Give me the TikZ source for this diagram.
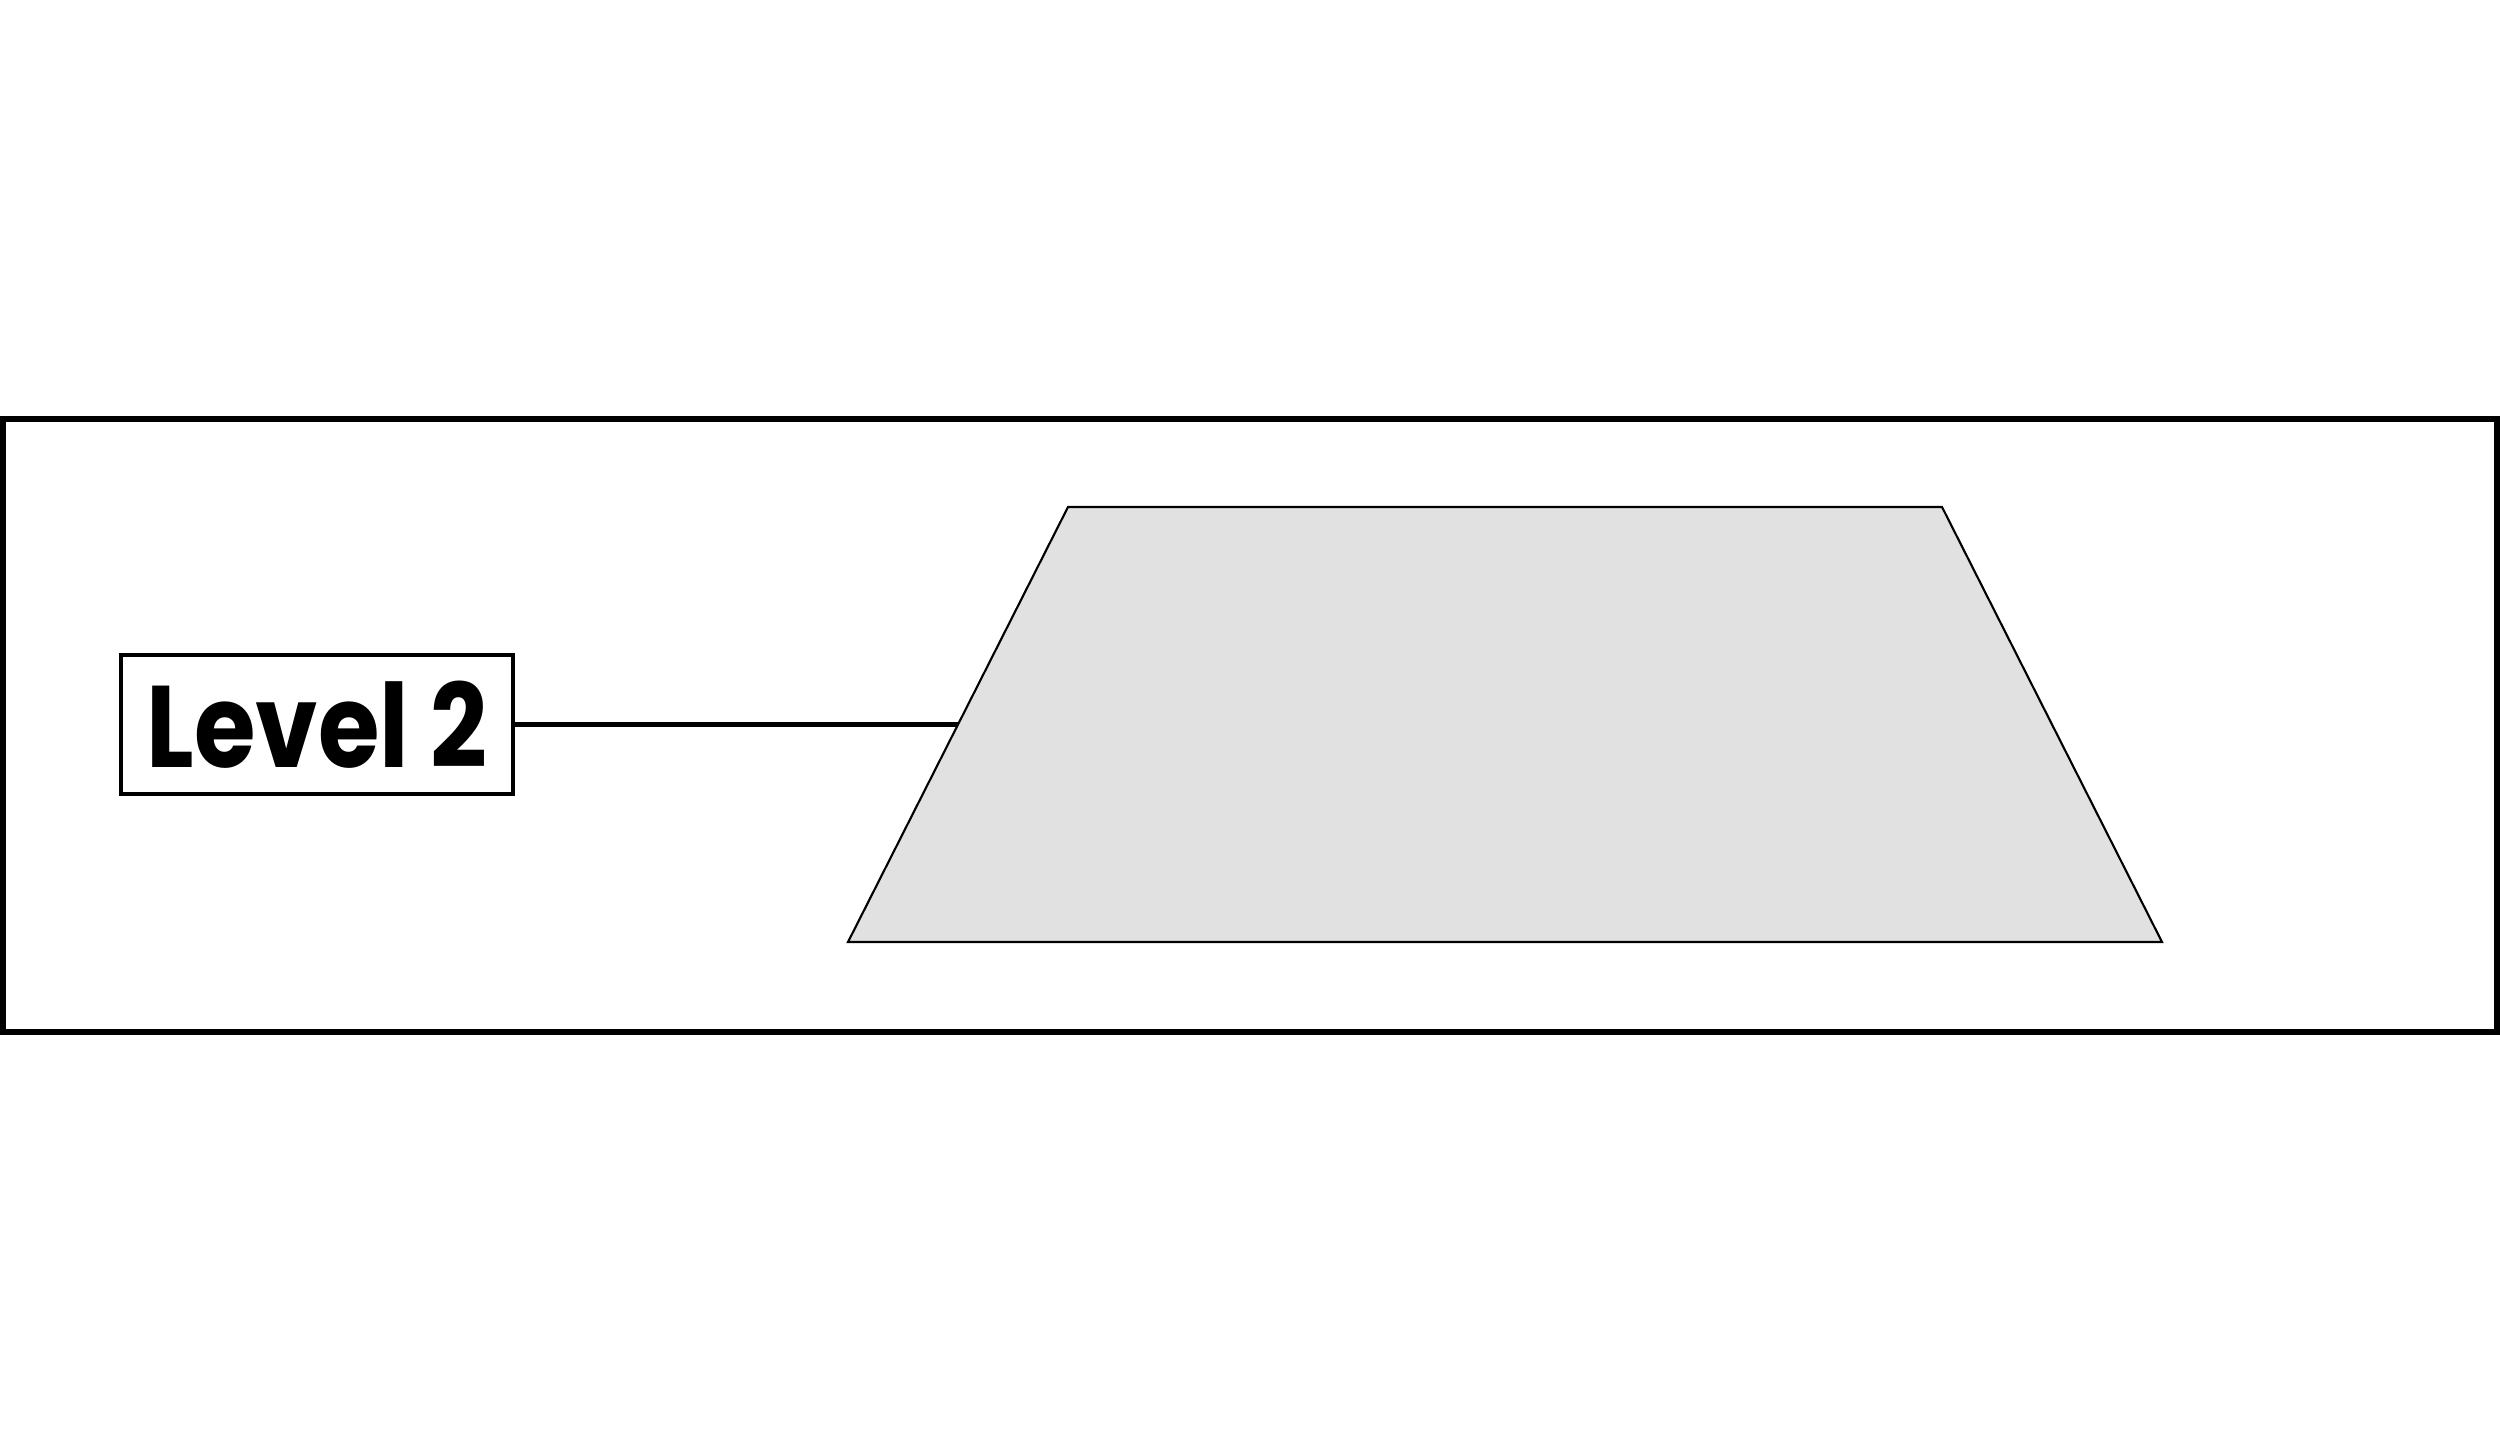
\documentclass[tikz,border=0pt]{standalone}
\usepackage{fontspec}
\newfontfamily\lblfont{Poppins}
\usepackage{tikz}

\definecolor{slabgray}{HTML}{E1E1E1}

\begin{document}
\begin{tikzpicture}[
    frame/.style={draw, line width=1.6pt},
    levelbox/.style={draw, line width=1.4pt, minimum width=3.92cm, minimum height=1.39cm,
                     inner sep=0pt, font=\lblfont\bfseries\fontsize{33}{33}\selectfont},
    slab/.style={draw, line width=0.6pt, fill=slabgray}
]
    \useasboundingbox (0, 0) rectangle (25, 14.51);
    \draw[frame] (0.03, 4.19) rectangle (24.97, 10.32);

%%   kw   (name)   (x, y)
    \coordinate (bl) at (8.48, 5.09);
    \coordinate (br) at (21.62, 5.09);
    \coordinate (tr) at (19.42, 9.44);
    \coordinate (tl) at (10.68, 9.44);
    \filldraw[slab] (bl) -- (br) -- (tr) -- (tl) -- cycle;
    \path (bl) -- (tl) coordinate[pos=0.5] (lm);

    \node[levelbox] (lvl) at (3.17, 7.265) {\scalebox{0.86}[1]{Level 2}};

    \draw[line width=1.2pt] (lvl.east) -- (lm);
\end{tikzpicture}
\end{document}
